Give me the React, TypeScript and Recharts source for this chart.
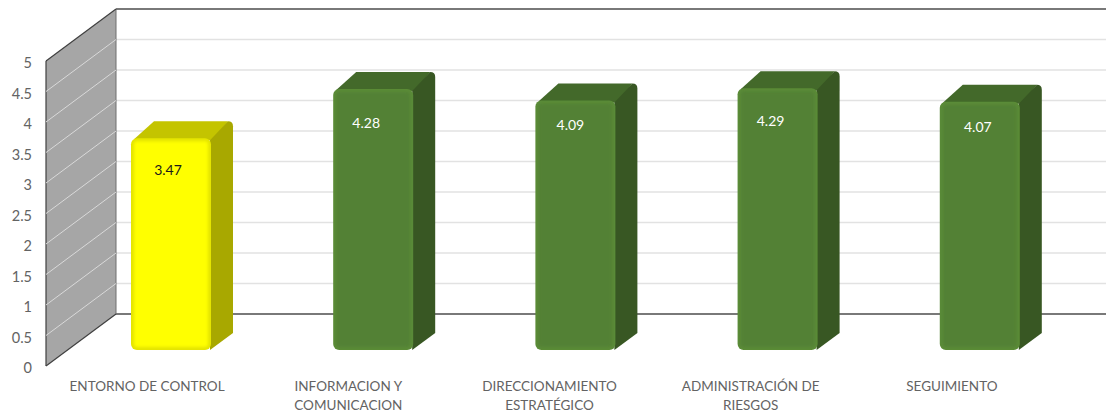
import { BarChart, Bar, XAxis, YAxis, CartesianGrid, ReferenceArea, ReferenceLine, Text } from 'recharts'

const categories = ['ENTORNO DE CONTROL', 'INFORMACION Y COMUNICACION', 'DIRECCIONAMIENTO ESTRATÉGICO', 'ADMINISTRACIÓN DE RIESGOS', 'SEGUIMIENTO']
const values = [3.47, 4.28, 4.09, 4.29, 4.07]
const yTicks = [0, 0.5, 1, 1.5, 2, 2.5, 3, 3.5, 4, 4.5, 5]

const chartData = categories.map((name, i) => ({ name, value: values[i] }))

// hand placed data labels in the original, so each has its own nudge
const LABEL_NUDGE = [
  { dx: -3, dy: 31 },
  { dx: -7, dy: 34 },
  { dx: -5, dy: 24 },
  { dx: -7, dy: 32 },
  { dx: -2, dy: 25 },
]

const WALL_LEFT = 46
const WALL_DX = 70
const WALL_DY = -52
const BAR_DX = 22
const BAR_DY = -17
const BAR_LIFT = 16 // bars stand this far above the front floor edge
const AXIS_TEXT = '#636363'
const FONT = 'Lato, "Open Sans", sans-serif'

const YELLOW = { front: '#ffff00', edge: '#e4e400', top: '#c4c400', side: '#a8a800', text: '#1a1a1a' }
const GREEN = { front: '#538134', edge: '#5a8b37', top: '#43692a', side: '#385723', text: '#ffffff' }

function backLine(props: any) {
  const { x2, y1, index } = props
  const back = y1 + WALL_DY
  const isEdge = y1 < 70 || y1 > 360
  return (
    <line
      key={index}
      x1={WALL_LEFT + WALL_DX}
      y1={back}
      x2={x2}
      y2={back}
      stroke={isEdge ? '#4d4d4d' : '#e2e2e2'}
      strokeWidth={isEdge ? 1.4 : 1.5}
    />
  )
}

function wallLine(props: any) {
  const y = props.y1 ?? props.viewBox?.y
  const isEdge = y < 70 || y > 360
  return (
    <line
      x1={WALL_LEFT}
      y1={y}
      x2={WALL_LEFT + WALL_DX}
      y2={y + WALL_DY}
      stroke={isEdge ? '#404040' : '#d9d9d9'}
      strokeWidth={isEdge ? 1.2 : 1}
    />
  )
}

function SideWall(props: any) {
  const { y, height } = props
  const x = WALL_LEFT
  const points = [
    [x, y],
    [x + WALL_DX, y + WALL_DY],
    [x + WALL_DX, y + height + WALL_DY],
    [x, y + height],
  ]
    .map((p) => p.join(','))
    .join(' ')
  return (
    <g>
      <polygon points={points} fill="#a6a6a6" />
      <line x1={x} y1={y} x2={x} y2={y + height} stroke="#404040" strokeWidth={1.2} />
      <line x1={x + WALL_DX} y1={y + WALL_DY} x2={x + WALL_DX} y2={y + height + WALL_DY} stroke="#6f6f6f" strokeWidth={1} />
    </g>
  )
}

function Bar3D(props: any) {
  const { x, width, height, index } = props
  const y = props.y - BAR_LIFT
  const c = index === 0 ? YELLOW : GREEN
  const nudge = LABEL_NUDGE[index]
  const r = x + width
  const b = y + height
  const top = `M${x + 3},${y + 1} L${x + BAR_DX + 1},${y + BAR_DY} L${r + BAR_DX - 5},${y + BAR_DY} L${r + 2},${y + 2} Z`
  const side = `M${r - 1},${y + 2} L${r + BAR_DX - 5},${y + BAR_DY} Q${r + BAR_DX},${y + BAR_DY} ${r + BAR_DX},${y + BAR_DY + 5} L${r + BAR_DX},${b + BAR_DY} L${r - 1},${b} Z`
  return (
    <g>
      <path d={top} fill={c.top} />
      <path d={side} fill={c.side} />
      <rect x={x} y={y} width={width} height={height} rx={6} fill={c.edge} />
      <rect x={x + 3} y={y + 3} width={width - 6} height={height - 6} rx={3} fill={c.front} filter="url(#soft)" />
      <text x={x + width / 2 + nudge.dx} y={y + nudge.dy} textAnchor="middle" dominantBaseline="central" fontFamily={FONT} fontSize={14} fill={c.text}>
        {values[index].toFixed(2)}
      </text>
    </g>
  )
}

function CategoryTick(props: any) {
  const { x, payload, index } = props
  return (
    <Text x={x - 24 - index} y={381} width={185} textAnchor="middle" verticalAnchor="start" lineHeight={19} fontFamily={FONT} fontSize={13.5} fill={AXIS_TEXT}>
      {payload.value}
    </Text>
  )
}

export default function App() {
  return (
    <div style={{ position: 'absolute', left: 0, top: 0, width: 1106, height: 414, background: '#fff' }}>
      <BarChart width={1106} height={414} data={chartData} margin={{ top: 61, right: 0, bottom: 0, left: 0 }} barSize={80}>
        <defs>
          <filter id="soft" x="-10%" y="-10%" width="120%" height="120%">
            <feGaussianBlur stdDeviation="1.4" />
          </filter>
        </defs>
        <ReferenceArea y1={0} y2={5} ifOverflow="visible" shape={SideWall} />
        {yTicks.map((t) => (
          <ReferenceLine key={t} y={t} ifOverflow="visible" shape={wallLine} />
        ))}
        <CartesianGrid vertical={false} horizontal={backLine} />
        <XAxis dataKey="name" height={48} axisLine={false} tickLine={false} interval={0} padding={{ left: 24, right: 25 }} tick={CategoryTick} />
        <YAxis
          width={46}
          domain={[0, 5]}
          ticks={yTicks}
          axisLine={false}
          tickLine={false}
          tickSize={0}
          tickMargin={14}
          tick={{ fill: AXIS_TEXT, fontSize: 14.5, fontFamily: FONT, dy: 2 }}
        />
        <Bar dataKey="value" shape={Bar3D} isAnimationActive={false} />
      </BarChart>
    </div>
  )
}
